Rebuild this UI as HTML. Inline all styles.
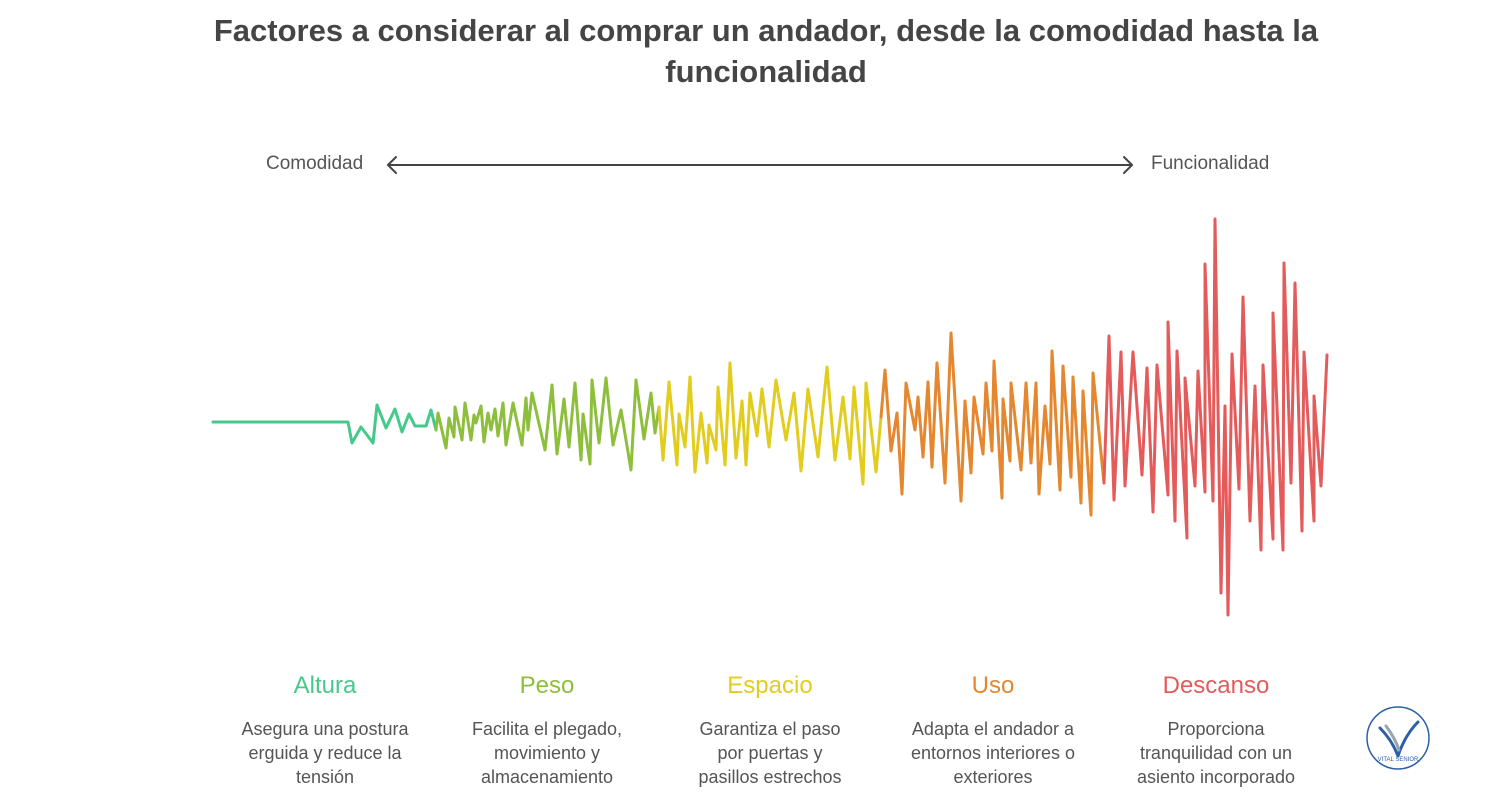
<!DOCTYPE html>
<html><head><meta charset="utf-8"><style>
body{margin:0;width:1500px;height:800px;background:#fff;font-family:"Liberation Sans",sans-serif;overflow:hidden;position:relative}
.t{position:absolute;left:0;width:1532px;text-align:center;top:10px;font-size:31px;font-weight:bold;color:#454545;line-height:41px}
.h{position:absolute;width:240px;text-align:center;font-size:24px;top:672px}
.d{position:absolute;width:170px;text-align:center;font-size:18px;color:#555;top:717px;line-height:24px}
.lab{position:absolute;top:153px;font-size:19px;color:#555}
</style></head><body>
<div class="t">Factores a considerar al comprar un andador, desde la comodidad hasta la<br>funcionalidad</div>
<div class="lab" style="left:266px">Comodidad</div>
<div class="lab" style="left:1151px">Funcionalidad</div>
<svg width="1500" height="800" style="position:absolute;left:0;top:0" fill="none" stroke-linejoin="round" stroke-linecap="round">
<g stroke="#444" stroke-width="2"><line x1="388" y1="165" x2="1132" y2="165"/><polyline points="396,157 388,165 396,173"/><polyline points="1124,157 1132,165 1124,173"/></g>
<g stroke-width="3">
<polyline stroke="#45c98b" points="213,422 348,422 352,443 361,427 373,443 377,405 386,428 395,409 402,432 409,414 415,426 426,426 431,410 436,430"/>
<polyline stroke="#8dbf3c" points="436,430 438,413 446,448 449,418 454,437 455,407 462,440 465,403 471,440 474,415 476,423 481,406 484,442 488,413 491,430 495,409 498,436 503,403 506,445 513,403 522,445 526,398 528,430 532,393 545,450 552,385 557,454 564,399 569,447 575,383 581,460 583,414 590,464 592,380 599,443 606,378 613,445 621,410 631,470 636,380 644,439 651,393 655,433 659,407"/>
<polyline stroke="#e2cd1e" points="659,407 663,460 669,382 677,465 679,414 685,447 690,377 695,472 701,413 707,463 709,425 716,450 718,387 725,465 730,363 736,458 742,401 746,465 750,393 757,436 762,389 769,447 776,380 786,440 794,393 801,471 808,389 818,457 827,367 835,460 843,397 850,459 854,387 863,484 866,383 876,472 881,417"/>
<polyline stroke="#e4872f" points="881,417 885,370 891,451 897,413 902,494 906,383 915,430 918,397 923,457 928,382 932,467 937,363 945,483 951,333 961,501 965,401 971,473 974,397 983,454 986,383 992,451 994,361 1002,498 1003,399 1010,461 1011,383 1021,470 1026,383 1031,463 1036,383 1039,494 1045,406 1050,464 1052,351 1060,490 1063,366 1071,477 1073,377 1081,503 1083,391 1091,515 1093,373 1104,483"/>
<polyline stroke="#e45b5b" points="1104,483 1109,336 1114,500 1121,352 1125,486 1133,352 1142,475 1147,368 1153,512 1157,365 1168,495 1168,322 1175,521 1177,351 1187,538 1185,378 1195,486 1198,371 1205,492 1205,264 1213,501 1215,219 1221,593 1225,406 1228,615 1232,354 1239,489 1243,297 1250,521 1255,386 1261,550 1263,365 1273,539 1273,313 1283,550 1284,263 1291,483 1295,283 1302,531 1304,352 1314,521 1314,396 1321,486 1327,355"/>
</g>
<circle cx="1398" cy="738" r="31" stroke="#2b5fa8" stroke-width="1.5"/>
<path d="M1380 728 Q1392 740 1398 756 Q1405 735 1418 722" stroke="#2b5fa8" stroke-width="3"/>
<path d="M1386 726 Q1395 738 1399 750" stroke="#9aa3b0" stroke-width="3"/>
<text x="1398" y="761" font-size="6" fill="#2b5fa8" text-anchor="middle" stroke="none" font-family="Liberation Sans">VITAL SENIOR</text>
</svg>
<div class="h" style="left:205px;color:#45c98b">Altura</div>
<div class="h" style="left:427px;color:#8dbf3c">Peso</div>
<div class="h" style="left:650px;color:#e2cd1e">Espacio</div>
<div class="h" style="left:873px;color:#e4872f">Uso</div>
<div class="h" style="left:1096px;color:#e45b5b">Descanso</div>
<div class="d" style="left:240px">Asegura una postura erguida y reduce la tensión</div>
<div class="d" style="left:462px">Facilita el plegado, movimiento y almacenamiento</div>
<div class="d" style="left:685px">Garantiza el paso por puertas y pasillos estrechos</div>
<div class="d" style="left:908px">Adapta el andador a entornos interiores o exteriores</div>
<div class="d" style="left:1131px">Proporciona tranquilidad con un asiento incorporado</div>
</body></html>
